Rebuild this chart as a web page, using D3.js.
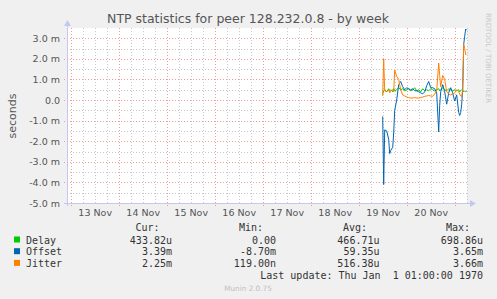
<!DOCTYPE html>
<html>
<head>
<meta charset="utf-8">
<script src="https://cdn.jsdelivr.net/npm/d3@7/dist/d3.min.js"></script>
<style>
body { margin: 0; background: #f0f0f0; }
svg { display: block; }
.grid-minor { stroke: #c8c8c8; stroke-dasharray: 1,2; }
.grid-major { stroke: #f09a9a; stroke-dasharray: 1,2; }
.axis text { font-family: "DejaVu Sans", sans-serif; font-size: 9.5px; fill: #555; }
.legend text { font-family: "DejaVu Sans Mono", monospace; font-size: 10px; fill: #333; }
</style>
</head>
<body>
<div class="chart"></div>
<script>
const WIDTH = 497;
const HEIGHT = 299;
const PLOT_LEFT = 67;
const PLOT_RIGHT = 467;
const PLOT_TOP = 28;
const PLOT_BOTTOM = 203;

// sample times, hours after 19 Nov 00:00
var hours = [12, 12.5, 13, 14, 15, 15.5, 16, 17, 17.5, 18, 19, 20, 21, 22, 23, 24, 25, 26, 27, 28,
  29, 30, 31, 32, 33, 34, 35, 36, 37, 38, 39, 40, 40.5, 41, 42, 43, 44, 45, 46, 47,
  48, 49, 50, 50.5, 51, 51.5, 52, 52.5, 53, 53.5, 54];

// values in milliseconds
var delay = [0.3, 0.45, 0.5, 0.4, 0.55, 0.45, 0.5, 0.4, 0.55, 0.45, 0.5, 0.6, 0.5, 0.55, 0.45, 0.5, 0.55, 0.45, 0.5, 0.6,
  0.45, 0.5, 0.4, 0.55, 0.45, 0.5, 0.45, 0.55, 0.5, 0.45, 0.5, 0.55, 0.45, 0.5, 0.6, 0.5, 0.45, 0.55, 0.5, 0.45,
  0.5, 0.45, 0.5, 0.4, 0.45, 0.5, 0.45, 0.4, 0.45, 0.4, 0.43];
var offset = [-0.8, -4.1, -1.45, -1.5, -1.9, -2.6, -2.45, -2.3, -1.6, -0.5, 0.0, 0.75, 0.9, 0.65, 0.5, 0.6, 0.55, 0.5, 0.55, 0.45,
  0.45, 0.4, 0.35, 0.3, 0.4, 0.7, 0.9, 0.6, 0.6, 0.55, 0.35, -1.55, -0.25, 0.4, 0.75, 0.4, -0.2, 0.35, 0.6, 0.35,
  -0.05, 0.25, -0.6, -0.75, -0.6, -0.2, 0.5, 2.7, 3.1, 3.45, 3.39];
var jitter = [0.2, 2.0, 0.45, 0.4, 0.5, 0.35, 0.45, 0.5, 0.4, 1.45, 1.15, 1.0, 0.5, 0.25, 0.2, 0.15, 0.12, 0.1, 0.1, 0.12,
  0.1, 0.1, 0.12, 0.15, 0.18, 0.2, 0.22, 0.2, 0.18, 0.3, 0.45, 1.8, 1.2, 0.65, 1.2, 1.0, 0.4, 0.3, 0.25, 0.3,
  0.35, 0.5, 0.4, 0.3, 0.2, 0.16, 0.5, 2.7, 2.5, 2.2, 2.25];

var seriesNames = ["Delay", "Offset", "Jitter"];
var seriesColors = ["#00cc00", "#0066b3", "#ff8000"];
var curValues = ["433.82u", "3.39m", "2.25m"];
var minValues = ["0.00", "-8.70m", "119.00n"];
var avgValues = ["466.71u", "59.35u", "516.38u"];
var maxValues = ["698.86u", "3.65m", "3.66m"];

var yTicks = [-5, -4, -3, -2, -1, 0, 1, 2, 3];
var dayLabels = ["13 Nov", "14 Nov", "15 Nov", "16 Nov", "17 Nov", "18 Nov", "19 Nov", "20 Nov"];

var translate = function(x, y) {
  return "translate(" + x + "," + y + ")";
};

var HOUR = 3600e3;
var BASE = Date.UTC(2023, 10, 19);   // 19 Nov 00:00

var xScale = d3.scaleUtc()
  .domain([new Date(BASE - 145.85 * HOUR), new Date(BASE + 54.15 * HOUR)])
  .range([PLOT_LEFT, PLOT_RIGHT]);

var yScale = d3.scaleLinear()
  .domain([-5, 3.5])
  .range([PLOT_BOTTOM, PLOT_TOP]);

var svg = d3.select(".chart").append("svg")
  .attr("width", WIDTH)
  .attr("height", HEIGHT);

svg.append("rect").attr("width", WIDTH).attr("height", HEIGHT).attr("fill", "#f0f0f0");
svg.append("rect")
  .attr("x", PLOT_LEFT).attr("y", PLOT_TOP)
  .attr("width", PLOT_RIGHT - PLOT_LEFT).attr("height", PLOT_BOTTOM - PLOT_TOP)
  .attr("fill", "#ffffff");

// grid
var dom = xScale.domain();
var sixHours = d3.utcHour.every(6).range(dom[0], dom[1]).filter(function(d) { return d.getUTCHours() != 0; });
var midnights = d3.utcDay.range(dom[0], dom[1]);
var halfSteps = d3.range(-4.5, 3.5, 1);

svg.selectAll(".vminor").data(sixHours).enter().append("line")
  .attr("class", "grid-minor")
  .attr("x1", function(d) { return Math.round(xScale(d)) + 0.5; })
  .attr("x2", function(d) { return Math.round(xScale(d)) + 0.5; })
  .attr("y1", PLOT_TOP).attr("y2", PLOT_BOTTOM);

svg.selectAll(".hminor").data(halfSteps).enter().append("line")
  .attr("class", "grid-minor")
  .attr("x1", PLOT_LEFT).attr("x2", PLOT_RIGHT)
  .attr("y1", function(d) { return Math.round(yScale(d)) + 0.5; })
  .attr("y2", function(d) { return Math.round(yScale(d)) + 0.5; });

svg.selectAll(".vmajor").data(midnights).enter().append("line")
  .attr("class", "grid-major")
  .attr("x1", function(d) { return Math.round(xScale(d)) + 0.5; })
  .attr("x2", function(d) { return Math.round(xScale(d)) + 0.5; })
  .attr("y1", PLOT_TOP).attr("y2", PLOT_BOTTOM + 3);

svg.selectAll(".hmajor").data(yTicks).enter().append("line")
  .attr("class", "grid-major")
  .attr("x1", PLOT_LEFT - 3).attr("x2", PLOT_RIGHT)
  .attr("y1", function(d) { return Math.round(yScale(d)) + 0.5; })
  .attr("y2", function(d) { return Math.round(yScale(d)) + 0.5; });

// lines
var line = d3.line()
  .x(function(d) { return xScale(d.t); })
  .y(function(d) { return yScale(d.v); });

[delay, offset, jitter].forEach(function(vals, k) {
  var pts = hours.map(function(h, i) { return { t: new Date(BASE + h * HOUR), v: vals[i] }; });
  svg.append("path")
    .attr("d", line(pts))
    .attr("fill", "none")
    .attr("stroke", seriesColors[k])
    .attr("stroke-width", 1);
});

// axes
var noons = midnights.map(function(d) { return new Date(+d + 12 * HOUR); });
var xAxis = d3.axisBottom(xScale)
  .tickValues(noons)
  .tickFormat(function(d, i) { return dayLabels[i]; })
  .tickSize(0).tickPadding(6);
var gx = svg.append("g").attr("class", "axis").attr("transform", translate(0, PLOT_BOTTOM)).call(xAxis);
gx.select(".domain").remove();

var yAxis = d3.axisLeft(yScale)
  .tickValues(yTicks)
  .tickFormat(function(d) { return d == 0 ? "0.0" : d.toFixed(1) + " m"; })
  .tickSize(0).tickPadding(7);
var gy = svg.append("g").attr("class", "axis").attr("transform", translate(PLOT_LEFT, 0)).call(yAxis);
gy.select(".domain").remove();

var AXIS_COLOR = "#c4c8f0";
svg.append("line")
  .attr("x1", PLOT_LEFT - 3).attr("x2", PLOT_RIGHT + 4)
  .attr("y1", PLOT_BOTTOM + 0.5).attr("y2", PLOT_BOTTOM + 0.5)
  .attr("stroke", AXIS_COLOR);
svg.append("path")
  .attr("d", "M" + (PLOT_RIGHT + 3) + "," + (PLOT_BOTTOM - 3) + "L" + (PLOT_RIGHT + 9) + "," + (PLOT_BOTTOM + 0.5) + "L" + (PLOT_RIGHT + 3) + "," + (PLOT_BOTTOM + 4) + "Z")
  .attr("fill", AXIS_COLOR);
svg.append("line")
  .attr("x1", PLOT_LEFT + 0.5).attr("x2", PLOT_LEFT + 0.5)
  .attr("y1", PLOT_BOTTOM + 3).attr("y2", PLOT_TOP - 3)
  .attr("stroke", AXIS_COLOR);
svg.append("path")
  .attr("d", "M" + (PLOT_LEFT - 3) + "," + (PLOT_TOP - 2) + "L" + (PLOT_LEFT + 0.5) + "," + (PLOT_TOP - 8) + "L" + (PLOT_LEFT + 4) + "," + (PLOT_TOP - 2) + "Z")
  .attr("fill", AXIS_COLOR);

// titles
svg.append("text")
  .attr("x", 248).attr("y", 23)
  .attr("text-anchor", "middle")
  .style("font-family", "DejaVu Sans, sans-serif").style("font-size", "12.5px").style("fill", "#555")
  .text("NTP statistics for peer 128.232.0.8 - by week");

svg.append("text")
  .attr("transform", translate(16, 116) + " rotate(-90)")
  .attr("text-anchor", "middle")
  .style("font-family", "DejaVu Sans, sans-serif").style("font-size", "11px").style("fill", "#555")
  .text("seconds");

svg.append("text")
  .attr("transform", translate(486, 58) + " rotate(90)")
  .attr("text-anchor", "middle")
  .style("font-family", "DejaVu Sans, sans-serif").style("font-size", "7px").style("fill", "#c8c8c8")
  .text("RRDTOOL / TOBI OETIKER");

// legend
var legend = svg.append("g").attr("class", "legend");
var headers = [["Cur:", 159.5], ["Min:", 263], ["Avg:", 367], ["Max:", 470]];
headers.forEach(function(h) {
  legend.append("text").attr("x", h[1]).attr("y", 231).attr("text-anchor", "end").text(h[0]);
});
var cols = [[curValues, 172], [minValues, 276], [avgValues, 379.5], [maxValues, 483]];
seriesNames.forEach(function(name, i) {
  var yy = 243.5 + i * 11.7;
  legend.append("rect").attr("x", 14).attr("y", yy - 7).attr("width", 6).attr("height", 6).attr("fill", seriesColors[i]);
  legend.append("text").attr("x", 26).attr("y", yy).text(name);
  cols.forEach(function(c) {
    legend.append("text").attr("x", c[1]).attr("y", yy).attr("text-anchor", "end").text(c[0][i]);
  });
});
legend.append("text").attr("x", 483).attr("y", 278.5).attr("text-anchor", "end")
  .attr("xml:space", "preserve").style("white-space", "pre")
  .text("Last update: Thu Jan  1 01:00:00 1970");

svg.append("text")
  .attr("x", 248).attr("y", 291).attr("text-anchor", "middle")
  .style("font-family", "DejaVu Sans, sans-serif").style("font-size", "7.3px").style("fill", "#c0c0c0")
  .text("Munin 2.0.75");
</script>
</body>
</html>
